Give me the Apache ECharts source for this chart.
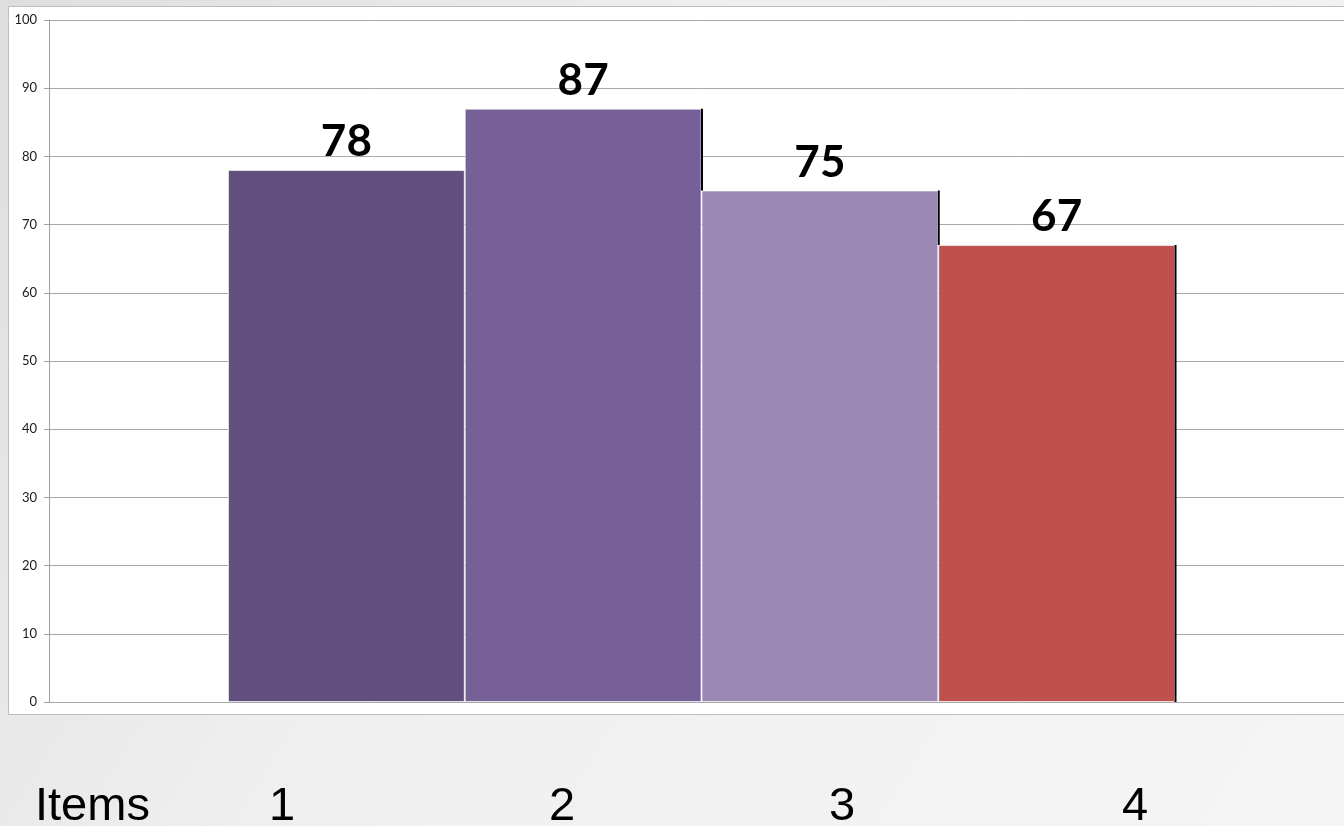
<!DOCTYPE html>
<html>
<head>
<meta charset="utf-8">
<script src="https://cdn.jsdelivr.net/npm/echarts@6/dist/echarts.min.js"></script>
<style>
html,body{margin:0;padding:0;}
#chart{width:1344px;height:826px;}
</style>
</head>
<body>
<div id="chart"></div>
<script>
// ---- data ----
const categories = ['1', '2', '3', '4'];
const values = [78, 87, 75, 67];
const yTicks = [0, 10, 20, 30, 40, 50, 60, 70, 80, 90, 100];
const tableHeader = 'Items';
const tableLabels = ['1', '2', '3', '4'];

// ---- styles ----
const barColors = ['#634f7d', '#775f97', '#9b89b3', '#c0504d'];
const tableX = [282, 562, 842, 1135];

const chart = echarts.init(document.getElementById('chart'));

const edgeData = values.map((v, i) => [i, v, i < values.length - 1 ? values[i + 1] : 0]);

const graphics = [
  {
    type: 'rect', z: -10, silent: true,
    shape: { x: 8.5, y: 6.5, width: 1345, height: 708 },
    style: { fill: '#ffffff', stroke: '#bdbdbd', lineWidth: 1 }
  },
  {
    type: 'text', z: 10,
    x: 35, y: 807,
    style: { text: tableHeader, font: '47px "Liberation Sans", Arial, sans-serif', fill: '#000', align: 'left', verticalAlign: 'middle' }
  }
].concat(tableLabels.map((t, i) => ({
  type: 'text', z: 10,
  x: tableX[i], y: 807,
  style: { text: t, font: '47px "Liberation Sans", Arial, sans-serif', fill: '#000', align: 'center', verticalAlign: 'middle' }
})));

chart.setOption({
  animation: false,
  backgroundColor: new echarts.graphic.LinearGradient(0, 0, 1, 1, [
    { offset: 0, color: '#dedede' },
    { offset: 0.4, color: '#efefef' },
    { offset: 1, color: '#f5f5f5' }
  ]),
  graphic: graphics,
  grid: [
    { left: 49, right: -10, top: 20, bottom: 124 },
    { left: 228, right: 169, top: 20, bottom: 124 }
  ],
  xAxis: [
    { gridIndex: 0, type: 'value', min: 0, max: 1, show: false },
    { gridIndex: 1, type: 'category', data: categories, show: false, boundaryGap: true }
  ],
  yAxis: [
    {
      gridIndex: 0, type: 'value', min: yTicks[0], max: yTicks[yTicks.length - 1], interval: 10,
      axisLine: { show: true, lineStyle: { color: '#a0a0a0', width: 1 } },
      axisTick: { show: true, length: 5, lineStyle: { color: '#a0a0a0' } },
      axisLabel: { color: '#1a1a1a', fontSize: 13, fontFamily: 'Lato, "Open Sans", sans-serif', margin: 12 },
      splitLine: { show: true, lineStyle: { color: '#a8a8a8', width: 1 } }
    },
    { gridIndex: 1, type: 'value', min: yTicks[0], max: yTicks[yTicks.length - 1], interval: 10, show: false, splitLine: { show: false } }
  ],
  series: [
    {
      type: 'bar',
      xAxisIndex: 1, yAxisIndex: 1,
      barCategoryGap: '0%',
      z: 3,
      data: values.map((v, i) => ({ value: v, itemStyle: { color: barColors[i] } })),
      itemStyle: { borderColor: 'rgba(255,255,255,0.6)', borderWidth: 1 },
      label: {
        show: true, position: 'top', distance: 6,
        fontSize: 44, fontWeight: 'bold', color: '#000',
        fontFamily: 'Lato, "Open Sans", sans-serif'
      }
    },
    {
      type: 'custom',
      xAxisIndex: 1, yAxisIndex: 1,
      z: 4,
      data: edgeData,
      renderItem: function (params, api) {
        const i = api.value(0), v = api.value(1), next = api.value(2);
        if (next >= v) return null;
        const top = api.coord([i, v]);
        const bot = api.coord([i, next]);
        const half = api.size([1, 0])[0] / 2;
        const x = top[0] + half + 0.5;
        return {
          type: 'line',
          shape: { x1: x, y1: top[1], x2: x, y2: bot[1] },
          style: { stroke: '#000', lineWidth: 2 }
        };
      }
    }
  ]
});
</script>
</body>
</html>
